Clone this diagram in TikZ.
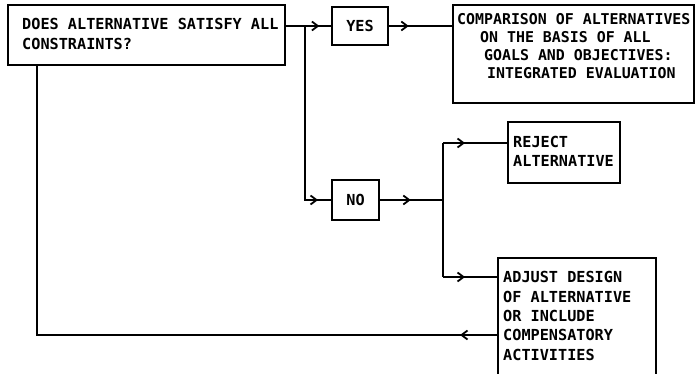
\documentclass[tikz,border=0pt]{standalone}
\usepackage{fontspec}
\newfontfamily\boxfont{DejaVu Sans Mono Bold}
\usetikzlibrary{arrows.meta,decorations.markings,calc}
\tikzset{
  box/.style={draw, line width=1.6pt, rectangle, inner sep=0pt},
  bigbox/.style={box, line width=2.8pt},
  txt/.style={font=\boxfont\fontsize{15.2}{19}\selectfont, inner sep=0pt, align=left},
  conn/.style={line width=1.6pt},
  midarrow/.style={postaction={decorate}, decoration={markings,
     mark=at position #1 with {\arrow{Straight Barb[length=6pt,width=9pt,line width=1.8pt]}}}}
}
\begin{document}
\begin{tikzpicture}[x=1pt,y=-1pt]
\useasboundingbox (0,0) rectangle (698,374);
\clip (0,0) rectangle (698,374);
% boxes
\node[bigbox, minimum width=277pt, minimum height=60pt] (cons) at (146.5,35) {};
\node[box, minimum width=56pt, minimum height=38pt] (yes) at (360,26) {};
\node[bigbox, minimum width=241pt, minimum height=98pt] (comp) at (573.5,54) {};
\node[box, minimum width=47pt, minimum height=40pt] (no) at (355.5,200) {};
\node[box, minimum width=112pt, minimum height=61pt] (rej) at (564,152.5) {};
\node[box, minimum width=158pt, minimum height=140pt] (adj) at (577,328) {};
% texts (base anchor = baseline of last line)
\node[txt, anchor=base west, font=\boxfont\fontsize{15.2}{20}\selectfont] (consT) at (22,50) {DOES ALTERNATIVE SATISFY ALL\\CONSTRAINTS?};
\node[txt] (yesT) at (yes.center) {YES};
\node[txt] (noT) at (no.center) {NO};
\node[txt, anchor=base west, font=\boxfont\fontsize{14.9}{18}\selectfont] (compT) at (457,79)
  {COMPARISON OF ALTERNATIVES\\\hspace*{23pt}ON THE BASIS OF ALL\\\hspace*{27pt}GOALS AND OBJECTIVES:\\\hspace*{30pt}INTEGRATED EVALUATION};
\node[txt, anchor=base west] (rejT) at (513,167) {REJECT\\ALTERNATIVE};
\node[txt, anchor=base west, font=\boxfont\fontsize{15.2}{19.3}\selectfont] (adjT) at (503,360)
  {ADJUST DESIGN\\OF ALTERNATIVE\\OR INCLUDE\\COMPENSATORY\\ACTIVITIES};
% junctions and ports
\coordinate (j1) at (305,26);
\coordinate (j2) at (443,200);
\coordinate (jtop) at (443,143);
\coordinate (jbot) at (443,277);
\coordinate (rin) at (rej.west |- jtop);
\coordinate (ain) at (adj.west |- jbot);
\coordinate (aout) at (498,335);
\coordinate (fb) at (37,335);
% connectors
\draw[conn, midarrow=33pt] (cons.east |- yes.west) -- (yes.west);
\draw[conn, midarrow=187pt] (j1) |- (no.west);
\draw[conn, midarrow=20pt] (yes.east) -- (comp.west |- yes.east);
\draw[conn, midarrow=31pt] (no.east) -- (j2);
\draw[conn] (jtop) -- (jbot);
\draw[conn, midarrow=22pt] (jtop) -- (rin);
\draw[conn, midarrow=22pt] (jbot) -- (ain);
\draw[conn, midarrow=38pt] (aout) -- (fb) -- (fb |- cons.south);
\end{tikzpicture}
\end{document}
